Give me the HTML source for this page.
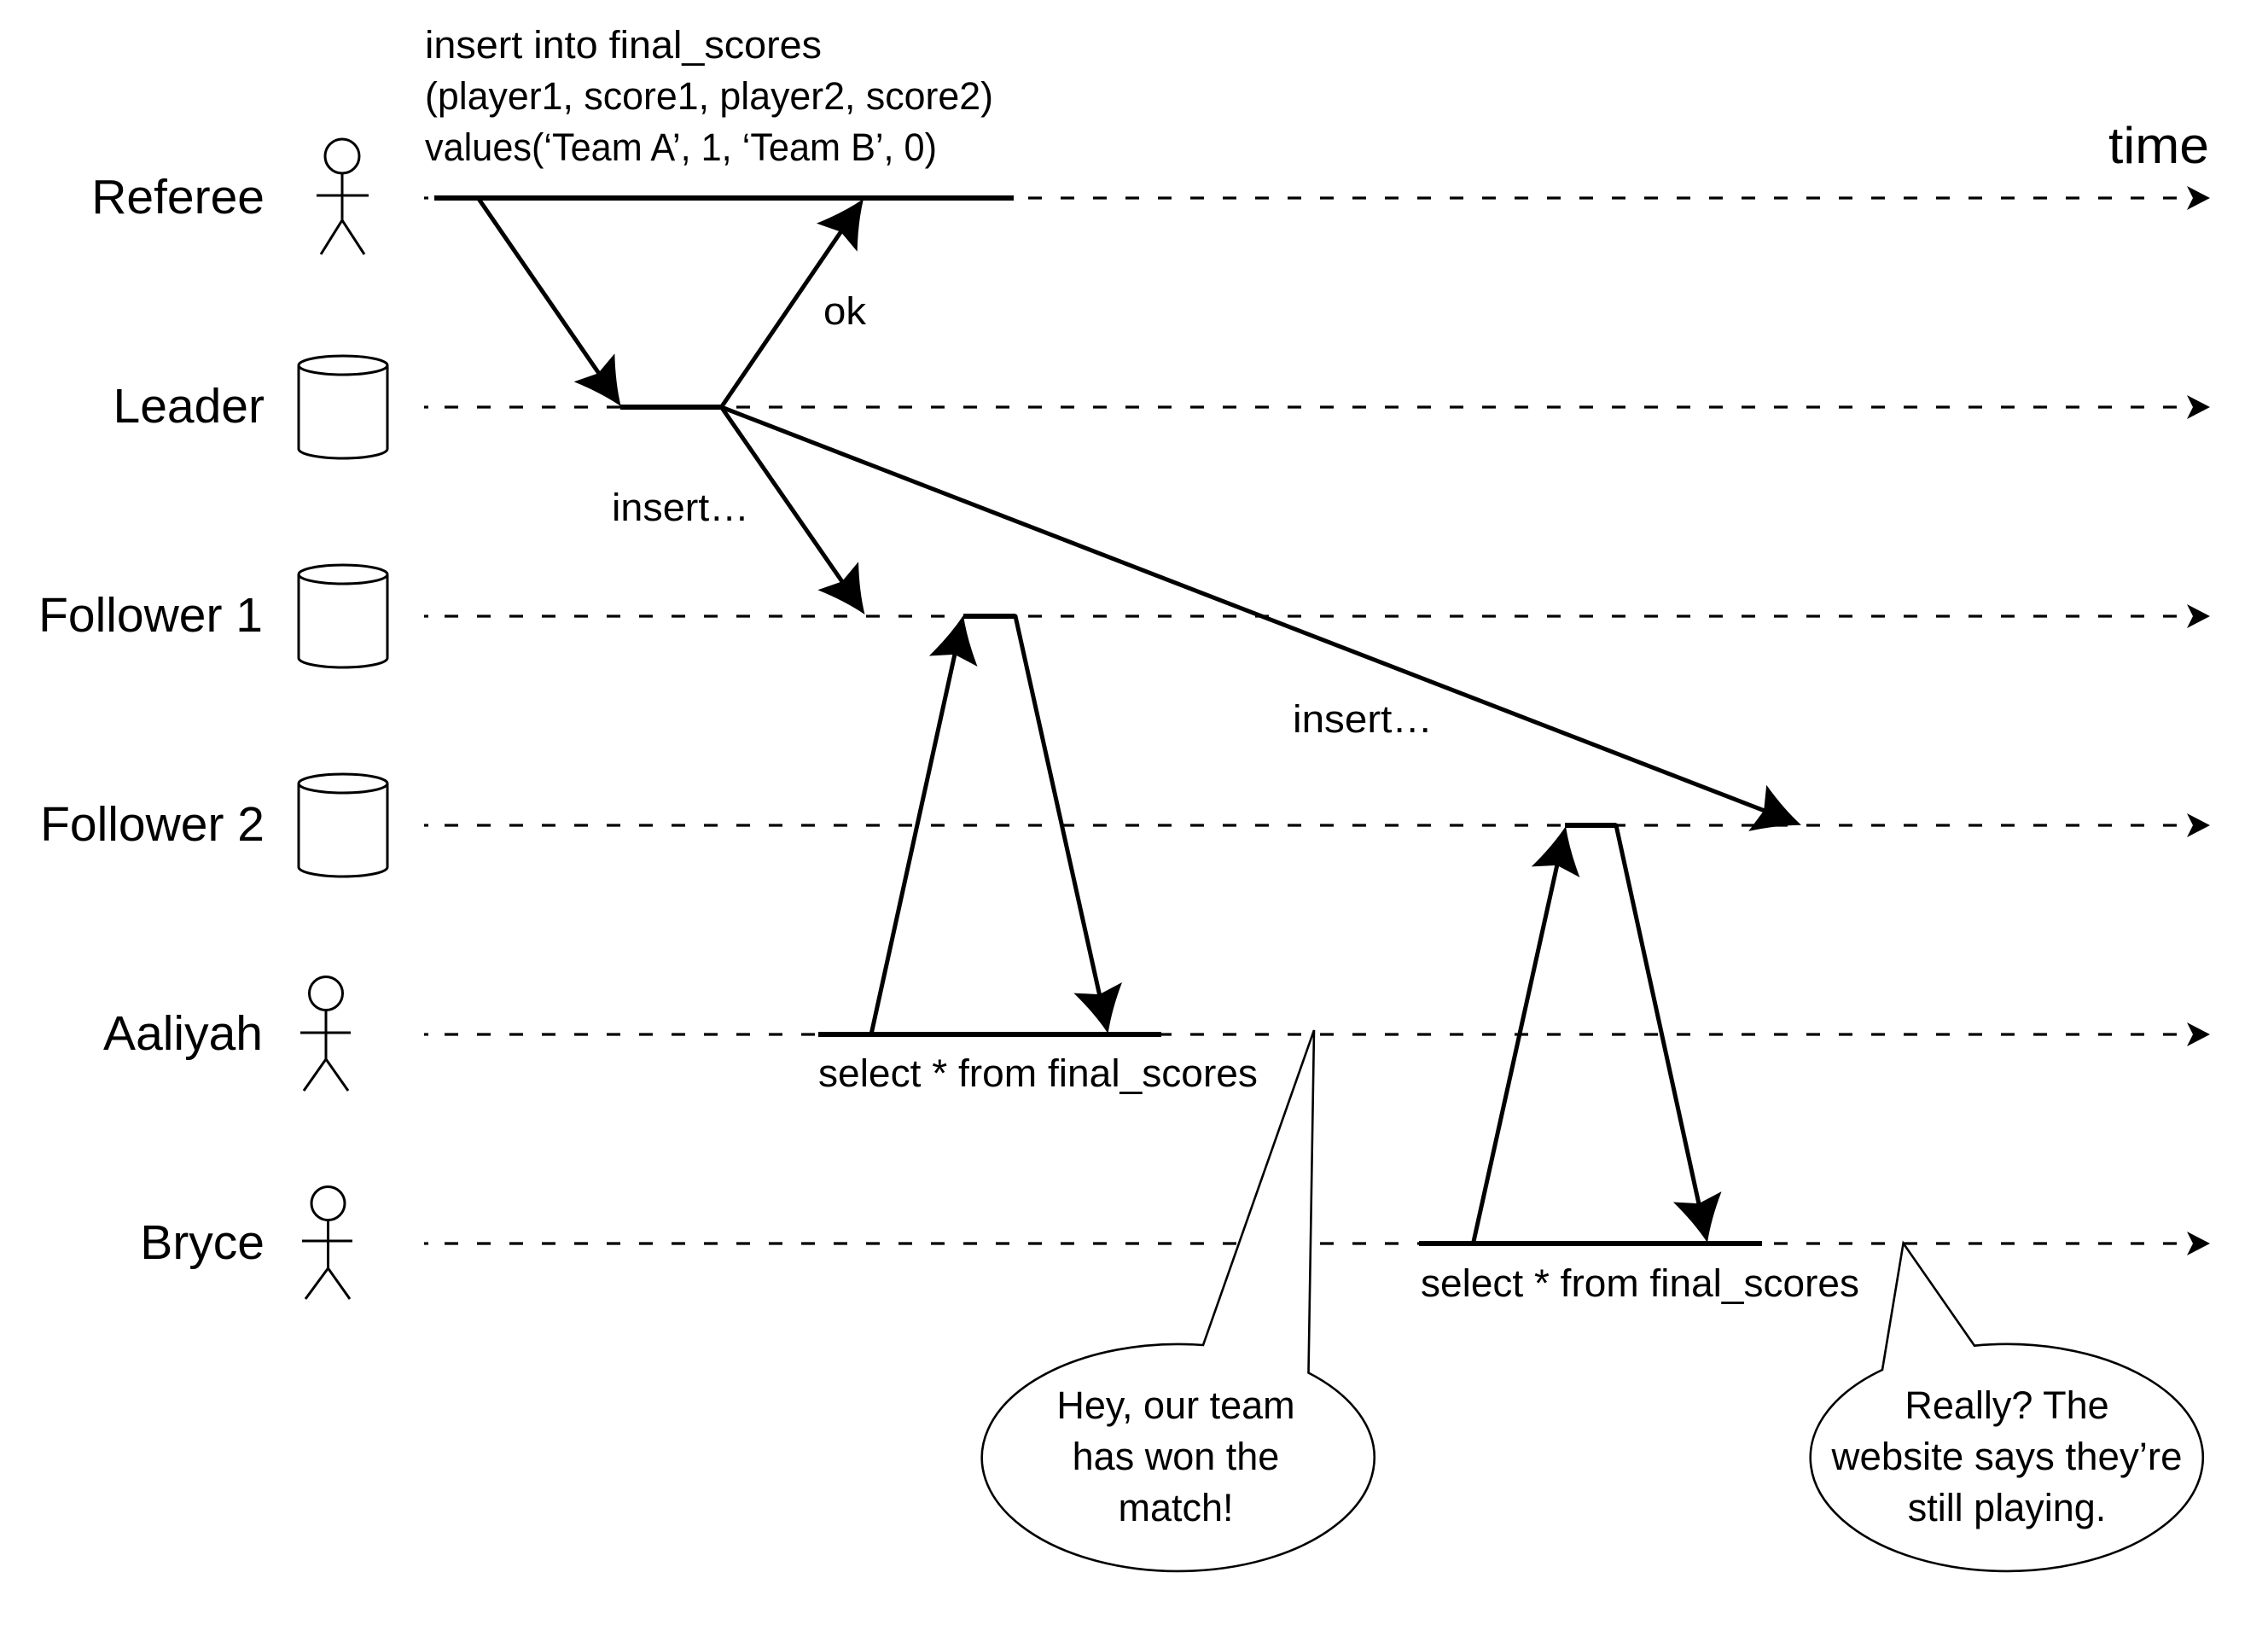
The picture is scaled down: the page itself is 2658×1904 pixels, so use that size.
<!DOCTYPE html>
<html><head><meta charset="utf-8"><style>
html,body{margin:0;padding:0;background:#fff;}
svg{display:block;}
text{font-family:"Liberation Sans",sans-serif;fill:#000;}
</style></head><body>
<svg width="2658" height="1904" viewBox="0 0 2658 1904" xmlns="http://www.w3.org/2000/svg">
<rect width="2658" height="1904" fill="#fff"/>
<defs>
<path id="ah" d="M0,0 Q-26,-10 -55,-29 L-47,0 L-55,29 Q-26,10 0,0 Z" fill="#000"/>
<path id="sh" d="M0,0 L-27,-14 L-20,0 L-27,14 Z" fill="#000"/>
</defs>

<!-- dashed timelines -->
<g stroke="#000" stroke-width="3.2" fill="none">
  <g stroke-dasharray="16 22">
    <line x1="521" y1="232" x2="2566" y2="232"/>
    <line x1="521" y1="477" x2="2566" y2="477"/>
    <line x1="521" y1="722" x2="2566" y2="722"/>
    <line x1="521" y1="967" x2="2566" y2="967"/>
    <line x1="521" y1="1212" x2="2566" y2="1212"/>
    <line x1="521" y1="1457" x2="2566" y2="1457"/>
  </g>
  <line x1="497" y1="232" x2="502" y2="232"/>
  <line x1="497" y1="477" x2="502" y2="477"/>
  <line x1="497" y1="722" x2="502" y2="722"/>
  <line x1="497" y1="967" x2="502" y2="967"/>
  <line x1="497" y1="1212" x2="502" y2="1212"/>
  <line x1="497" y1="1457" x2="502" y2="1457"/>
</g>
<use href="#sh" transform="translate(2590,232)"/>
<use href="#sh" transform="translate(2590,477)"/>
<use href="#sh" transform="translate(2590,722)"/>
<use href="#sh" transform="translate(2590,967)"/>
<use href="#sh" transform="translate(2590,1212)"/>
<use href="#sh" transform="translate(2590,1457)"/>

<!-- lane labels -->
<g font-size="57" text-anchor="end">
  <text x="310" y="250">Referee</text>
  <text x="310" y="495">Leader</text>
  <text x="308" y="740">Follower 1</text>
  <text x="310" y="985">Follower 2</text>
  <text x="308" y="1230">Aaliyah</text>
  <text x="310" y="1475">Bryce</text>
</g>
<text x="2471" y="191" font-size="60" textLength="118" lengthAdjust="spacingAndGlyphs">time</text>

<!-- stick figures -->
<g stroke="#000" stroke-width="3" fill="none">
  <circle cx="401" cy="183" r="20"/>
  <line x1="401" y1="203" x2="401" y2="258"/>
  <line x1="371" y1="229" x2="432" y2="229"/>
  <polyline points="376,298 401,258 427,298"/>

  <circle cx="382" cy="1164" r="19.5"/>
  <line x1="382" y1="1183.5" x2="382" y2="1241"/>
  <line x1="352" y1="1210" x2="411" y2="1210"/>
  <polyline points="356,1278 382,1241 408,1278"/>

  <circle cx="384.5" cy="1410" r="19.5"/>
  <line x1="384.5" y1="1429.5" x2="384.5" y2="1486"/>
  <line x1="354" y1="1454" x2="413" y2="1454"/>
  <polyline points="358,1522 384.5,1486 410,1522"/>
</g>

<!-- cylinders -->
<g stroke="#000" stroke-width="3" fill="#fff">
  <path d="M350,428 V526 A52,11 0 0 0 454,526 V428"/>
  <ellipse cx="402" cy="428" rx="52" ry="11"/>
  <path d="M350,673 V771 A52,11 0 0 0 454,771 V673"/>
  <ellipse cx="402" cy="673" rx="52" ry="11"/>
  <path d="M350,918 V1016 A52,11 0 0 0 454,1016 V918"/>
  <ellipse cx="402" cy="918" rx="52" ry="11"/>
</g>

<!-- thick activity lines -->
<g stroke="#000" stroke-width="6" fill="none">
  <line x1="509" y1="232" x2="1188" y2="232"/>
  <line x1="727" y1="477" x2="846" y2="477"/>
  <line x1="1129" y1="722" x2="1190" y2="722"/>
  <line x1="1834" y1="967" x2="1894" y2="967"/>
  <line x1="959" y1="1212" x2="1361" y2="1212"/>
  <line x1="1663" y1="1457" x2="2065" y2="1457"/>
</g>

<!-- message arrows -->
<g stroke="#000" stroke-width="5" fill="none" stroke-linecap="round">
  <line x1="561" y1="233" x2="705" y2="442"/>
  <line x1="845.4" y1="477" x2="989.3" y2="266"/>
  <line x1="845.4" y1="477" x2="990.8" y2="687"/>
  <line x1="845.4" y1="477" x2="2073.7" y2="952.2"/>
  <line x1="1021" y1="1212" x2="1120.4" y2="760"/>
  <line x1="1190" y1="722" x2="1290" y2="1172"/>
  <line x1="1726.5" y1="1457" x2="1826.3" y2="1007"/>
  <line x1="1894" y1="967" x2="1992.4" y2="1417"/>
</g>
<use href="#ah" transform="translate(727.7,476) rotate(55.4)"/>
<use href="#ah" transform="translate(1012,233) rotate(-55.4)"/>
<use href="#ah" transform="translate(1013.5,720) rotate(55.3)"/>
<use href="#ah" transform="translate(2111,966.7) rotate(21.19)"/>
<use href="#ah" transform="translate(1129,721) rotate(-77.6)"/>
<use href="#ah" transform="translate(1298.6,1211) rotate(77.5)"/>
<use href="#ah" transform="translate(1835,968) rotate(-77.5)"/>
<use href="#ah" transform="translate(2001,1456) rotate(77.66)"/>

<!-- message texts -->
<g font-size="45">
  <text x="498" y="68" textLength="465" lengthAdjust="spacingAndGlyphs">insert into final_scores</text>
  <text x="498" y="128" textLength="666" lengthAdjust="spacingAndGlyphs">(player1, score1, player2, score2)</text>
  <text x="498" y="188" textLength="600" lengthAdjust="spacingAndGlyphs">values(‘Team A’, 1, ‘Team B’, 0)</text>
  <text x="965" y="380" textLength="50" lengthAdjust="spacingAndGlyphs">ok</text>
  <text x="717" y="610" textLength="161" lengthAdjust="spacingAndGlyphs">insert…</text>
  <text x="1515" y="858" textLength="164" lengthAdjust="spacingAndGlyphs">insert…</text>
  <text x="959" y="1273" textLength="515" lengthAdjust="spacingAndGlyphs">select * from final_scores</text>
  <text x="1665" y="1519" textLength="514" lengthAdjust="spacingAndGlyphs">select * from final_scores</text>
</g>

<!-- speech bubbles -->
<g stroke="#000" stroke-width="2.6" fill="#fff" stroke-linejoin="miter">
  <path d="M1533.5,1608.5 A230,133 0 1 1 1410,1576 L1540,1207 Z"/>
  <path d="M2314,1576.7 A230,133 0 1 1 2206,1605 L2230.6,1456.7 Z"/>
</g>
<g font-size="45" text-anchor="middle">
  <text x="1378" y="1662">Hey, our team</text>
  <text x="1378" y="1722">has won the</text>
  <text x="1378" y="1782">match!</text>
  <text x="2352" y="1662">Really? The</text>
  <text x="2352" y="1722" textLength="411" lengthAdjust="spacingAndGlyphs">website says they’re</text>
  <text x="2352" y="1782">still playing.</text>
</g>
</svg>
</body></html>
